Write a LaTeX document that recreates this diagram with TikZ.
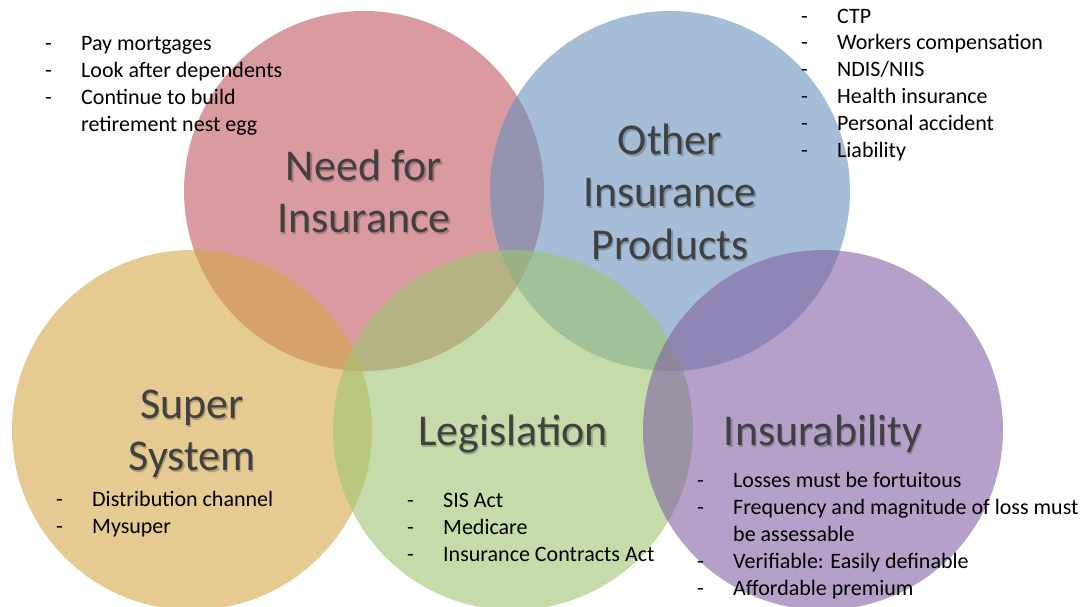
\documentclass[tikz,border=0pt]{standalone}
\usepackage{fontspec}
\setmainfont{Carlito}
\usepackage{tikz}

\definecolor{needred}{RGB}{192,88,97}
\definecolor{otherblue}{RGB}{105,145,187}
\definecolor{supertan}{RGB}{212,167,73}
\definecolor{legisgreen}{RGB}{158,197,113}
\definecolor{insurpurple}{RGB}{130,97,163}
\definecolor{titlegray}{RGB}{64,64,64}

% one dashed entry, and a wrapped continuation line
\newcommand{\dashitem}[1]{\hbox{\makebox[36pt][l]{-}#1}}
\newcommand{\contitem}[1]{\hbox{\hspace*{36pt}#1}}
% one centred title line
\newcommand{\titleline}[1]{\hbox to 0pt{\hss#1\hss}}

\begin{document}
\begin{tikzpicture}[x=1pt, y=-1pt]

    % Styles
    \tikzstyle{bubble} = [circle, minimum size=360pt, inner sep=0pt, fill opacity=0.6]
    \tikzstyle{title} = [inner sep=0pt, anchor=base, text=titlegray, font=\fontsize{44}{53}\selectfont]
    \tikzstyle{titleshade} = [title, text=black, text opacity=0.22, xshift=1.5pt, yshift=-2pt]
    \tikzstyle{listtext} = [inner sep=0pt, anchor=base west, text=black, font=\fontsize{22}{27}\selectfont]

    \useasboundingbox (0,0) rectangle (1091,606);

    % Circles
    \node (need) [bubble, fill=needred] at (364,191) {};
    \node (other) [bubble, fill=otherblue] at (670,191) {};
    \node (super) [bubble, fill=supertan] at (192,430) {};
    \node (legis) [bubble, fill=legisgreen] at (513,430) {};
    \node (insur) [bubble, fill=insurpurple] at (823,430) {};

    % Titles (shadow first)
    \node (needshade) [titleshade] at (364,180) {\vtop{\baselineskip=52pt \titleline{Need for}\titleline{Insurance}}};
    \node (othershade) [titleshade] at (670,154) {\vtop{\baselineskip=52.5pt \titleline{Other}\titleline{Insurance}\titleline{Products}}};
    \node (supershade) [titleshade] at (192,418) {\vtop{\baselineskip=52pt \titleline{Super}\titleline{System}}};
    \node (legisshade) [titleshade] at (513,445) {\titleline{Legislation}};
    \node (insurshade) [titleshade] at (823,445) {\titleline{Insurability}};

    \node (needtitle) [title] at (364,180) {\vtop{\baselineskip=52pt \titleline{Need for}\titleline{Insurance}}};
    \node (othertitle) [title] at (670,154) {\vtop{\baselineskip=52.5pt \titleline{Other}\titleline{Insurance}\titleline{Products}}};
    \node (supertitle) [title] at (192,418) {\vtop{\baselineskip=52pt \titleline{Super}\titleline{System}}};
    \node (legistitle) [title] at (513,445) {\titleline{Legislation}};
    \node (insurtitle) [title] at (823,445) {\titleline{Insurability}};

    % Lists
    \node (needlist) [listtext] at (45,50) {\vtop{\baselineskip=27pt
        \dashitem{Pay mortgages}
        \dashitem{Look after dependents}
        \dashitem{Continue to build}
        \contitem{retirement nest egg}}};
    \node (otherlist) [listtext] at (801,23) {\vtop{\baselineskip=26.8pt
        \dashitem{CTP}
        \dashitem{Workers compensation}
        \dashitem{NDIS/NIIS}
        \dashitem{Health insurance}
        \dashitem{Personal accident}
        \dashitem{Liability}}};
    \node (superlist) [listtext] at (56,506) {\vtop{\baselineskip=27pt
        \dashitem{Distribution channel}
        \dashitem{Mysuper}}};
    \node (legislist) [listtext] at (407,507) {\vtop{\baselineskip=27pt
        \dashitem{SIS Act}
        \dashitem{Medicare}
        \dashitem{Insurance Contracts Act}}};
    \node (insurlist) [listtext] at (697,487) {\vtop{\baselineskip=27pt
        \dashitem{Losses must be fortuitous}
        \dashitem{Frequency and magnitude of loss must}
        \contitem{be assessable}
        \dashitem{Verifiable: Easily definable}
        \dashitem{Affordable premium}}};

\end{tikzpicture}
\end{document}
